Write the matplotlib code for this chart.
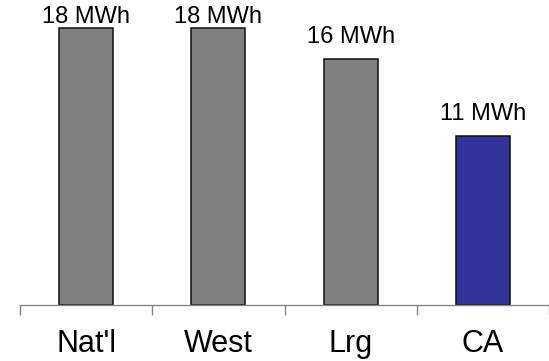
import matplotlib
matplotlib.use("Agg")
import matplotlib.pyplot as plt

# Annual energy use per site
categories = ["Nat'l", "West", "Lrg", "CA"]
values = [18, 18, 16, 11]
value_labels = ["18 MWh", "18 MWh", "16 MWh", "11 MWh"]
bar_colors = ["#808080", "#808080", "#808080", "#333399"]

plt.rcParams["font.family"] = ["Liberation Sans", "DejaVu Sans"]

W, H = 549, 361
fig = plt.figure(figsize=(W / 100, H / 100), dpi=100)
ax = fig.add_axes([20 / W, 56 / H, 1 - 20 / W, 305 / H])

x = list(range(len(categories)))
ax.bar(x, values, width=0.41, color=bar_colors, edgecolor="#111111",
       linewidth=1.1, zorder=2)

ymax = 19.8
ax.set_ylim(0, ymax)
ax.set_xlim(-0.5, 3.43)

# value labels above bars, kept inside the plot area
pad = 1.04
cap = 18.29
for xi, v, lab in zip(x, values, value_labels):
    ax.text(xi, min(v + pad, cap), lab, ha="center", va="baseline",
            fontsize=17, color="black")

# category axis: boundary ticks, labels centred on categories
ax.set_xticks([-0.5, 0.5, 1.5, 2.5, 3.5])
ax.set_xticklabels([])
ax.tick_params(axis="x", which="major", direction="out", length=7.2,
               width=1.0, color="#868686")
ax.set_xticks(x, minor=True)
ax.set_xticklabels(categories, minor=True, fontsize=22)
ax.tick_params(axis="x", which="minor", length=0, pad=17)

ax.set_yticks([])
for s in ("left", "right", "top"):
    ax.spines[s].set_visible(False)
ax.spines["bottom"].set_color("#868686")
ax.spines["bottom"].set_linewidth(1.0)

fig.savefig("out.png", dpi=100)
